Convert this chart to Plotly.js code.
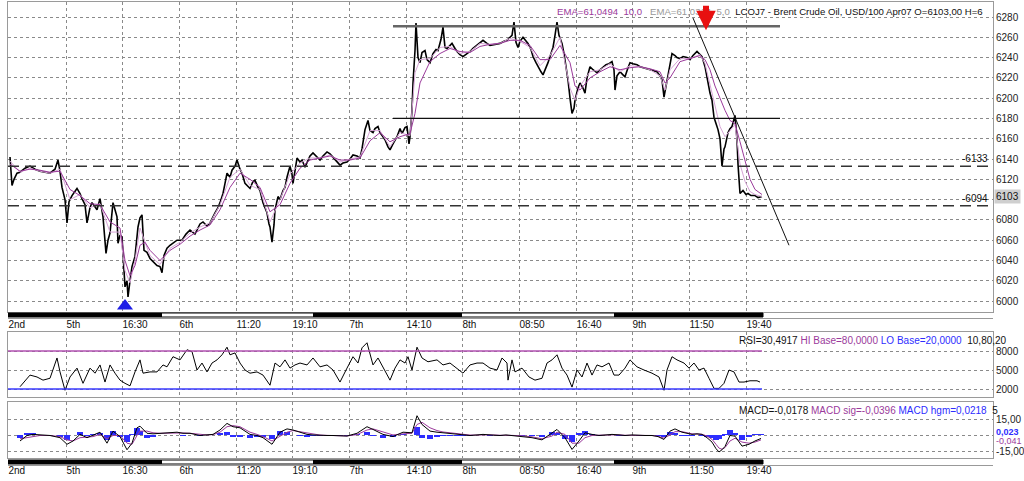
<!DOCTYPE html>
<html><head><meta charset="utf-8">
<script src="https://cdn.plot.ly/plotly-3.0.1.min.js"></script>
<style>html,body{margin:0;padding:0;background:#fff}#chart{width:1024px;height:481px}</style>
</head><body><div id="chart"></div>
<script>
// ---------- time axis (bar index) ----------
const xTickVals = [8,66,122,179,236,292,349,406,462,519,576,632,689,746];
const xTickText = ['2nd','5th','16:30','6th','11:20','19:10','7th','14:10','8th','08:50','16:40','9th','11:50','19:40'];
const sessionBlack = [[8,162],[313,462],[614,763]];
const sessionEnd = 763;

// ---------- price (LCOJ7, USD/100) ----------
const priceIdx = [
10,12,14,17,20,25,30,35,40,45,
50,55,58,60,62,65,67,69,72,77,
80,82,85,87,90,92,95,97,100,103,
106,108,110,113,115,117,118,120,122,124,
125,127,128,130,132,135,137,138,140,142,
144,147,150,154,157,160,162,164,167,170,
173,177,182,186,190,195,200,203,207,210,
215,218,220,223,225,227,230,232,235,237,
240,242,245,248,250,253,255,258,260,263,
265,267,269,270,272,274,275,278,280,283,
285,287,290,292,293,295,297,300,302,305,
308,310,313,317,320,323,327,330,333,337,
340,343,347,350,353,357,360,362,365,368,
370,373,375,378,380,383,385,388,390,393,
397,400,402,405,407,409,410,412,413,415,
416,418,420,422,425,427,430,433,436,438,
441,443,445,447,450,452,455,457,460,463,
467,470,473,477,480,483,487,490,495,500,
504,507,510,512,514,516,518,520,523,526,
528,531,533,536,538,541,543,546,548,551,
553,555,557,559,562,564,565,567,568,570,
572,574,575,578,580,583,585,587,590,593,
597,600,603,606,609,612,614,615,617,620,
623,625,628,630,633,637,640,643,647,650,
653,657,660,662,664,666,668,670,672,675,
677,680,683,687,690,693,697,700,702,705,
708,710,712,714,716,718,720,722,724,725,
728,730,732,735,737,738,740,743,746,748,
751,755,758,762];
const priceClose = [
6142,6114,6120,6126,6127,6131,6133,6130,6128,6127,
6126,6130,6139,6128,6112,6100,6077,6098,6104,6111,
6106,6101,6095,6077,6092,6097,6093,6090,6101,6083,
6047,6060,6067,6097,6090,6083,6057,6065,6063,6035,
6014,6020,6004,6020,6034,6044,6060,6073,6082,6085,
6050,6048,6042,6038,6035,6034,6028,6045,6052,6055,
6057,6060,6060,6066,6070,6066,6076,6078,6074,6077,
6087,6092,6097,6106,6116,6126,6122,6129,6133,6139,
6130,6126,6116,6113,6111,6118,6119,6112,6109,6097,
6092,6087,6076,6073,6058,6075,6090,6103,6100,6109,
6112,6122,6133,6125,6116,6130,6141,6137,6139,6132,
6138,6143,6146,6142,6139,6143,6147,6145,6142,6137,
6134,6136,6137,6140,6144,6143,6141,6150,6169,6178,
6168,6166,6170,6172,6166,6162,6159,6152,6149,6155,
6162,6170,6165,6171,6172,6155,6162,6188,6215,6247,
6274,6240,6235,6245,6247,6238,6235,6244,6248,6247,
6258,6270,6250,6249,6252,6254,6249,6246,6243,6241,
6244,6246,6249,6252,6255,6257,6254,6252,6253,6254,
6256,6257,6260,6262,6275,6255,6250,6256,6260,6257,
6254,6248,6241,6235,6231,6226,6223,6230,6235,6244,
6250,6262,6275,6262,6254,6244,6238,6225,6218,6200,
6185,6190,6198,6210,6215,6210,6205,6220,6231,6228,
6225,6228,6231,6233,6234,6236,6228,6208,6222,6226,
6223,6221,6230,6235,6234,6233,6231,6230,6229,6228,
6227,6226,6222,6218,6201,6212,6221,6232,6244,6242,
6240,6239,6241,6240,6238,6242,6246,6243,6241,6231,
6215,6205,6198,6181,6175,6169,6160,6133,6150,6152,
6166,6170,6172,6183,6159,6135,6106,6109,6105,6106,
6104,6104,6102,6103];

// ---------- moving averages ----------
const emaIdx = [
10,20,30,40,50,60,70,80,90,100,
110,120,125,130,135,140,145,150,160,170,
180,190,200,210,220,230,240,250,260,270,
280,290,300,310,320,330,340,350,360,370,
380,390,400,410,415,420,430,440,450,460,
470,480,490,500,510,520,530,540,550,560,
570,575,580,590,600,610,620,630,640,650,
660,665,670,680,690,700,705,710,715,720,
725,730,735,740,745,750,755,762];
const ema5 = [
6138,6127,6131,6128,6126,6130,6100,6105,6092,6096,
6068,6068,6030,6018,6040,6072,6058,6045,6036,6052,
6058,6067,6073,6077,6095,6122,6130,6114,6110,6078,
6100,6125,6136,6141,6141,6144,6137,6140,6142,6168,
6168,6152,6166,6163,6225,6238,6239,6250,6251,6244,
6246,6254,6253,6254,6259,6256,6250,6232,6242,6260,
6210,6198,6212,6226,6228,6234,6226,6232,6231,6228,
6222,6208,6228,6239,6239,6243,6234,6214,6192,6172,
6162,6168,6174,6135,6118,6108,6105,6103];
const ema10 = [
6135,6128,6130,6129,6127,6128,6110,6104,6096,6095,
6078,6072,6040,6025,6035,6055,6058,6050,6040,6050,
6056,6064,6070,6075,6090,6112,6126,6120,6112,6088,
6095,6116,6131,6139,6141,6143,6139,6139,6141,6158,
6166,6157,6162,6165,6185,6215,6236,6244,6249,6246,
6245,6251,6253,6254,6257,6257,6252,6238,6238,6252,
6235,6212,6208,6220,6226,6231,6228,6230,6231,6229,
6226,6215,6220,6236,6239,6242,6238,6228,6212,6200,
6188,6178,6175,6157,6137,6120,6110,6105];

// ---------- drawn analysis ----------
const dashedLevels = [6133, 6094];
const channelIdx = [393, 780];
const channelTop = 6271, channelBottom = 6180;
const trendIdx = [693, 789], trendVal = [6279, 6055];
const lowSignalIdx = [125], lowSignalVal = [5995];
const sellArrowIdx = 706, sellArrowVal = 6267;
const lastPrice = 6103;

// ---------- RSI ----------
const rsiIdx = [20,30,37,43,50,57,60,65,70,77,83,90,95,100,105,110,115,120,125,130,
135,140,143,150,157,163,167,173,180,187,192,197,202,207,212,217,222,227,230,235,
240,245,250,257,263,270,275,280,285,290,295,300,307,313,320,327,333,340,347,353,
358,362,367,370,373,378,383,390,395,400,405,408,412,417,422,428,437,443,450,457,
463,470,477,483,490,497,502,507,508,512,515,522,529,535,542,547,552,557,562,567,
572,577,582,587,592,597,602,609,614,619,625,630,637,644,652,659,664,667,672,677,
684,689,694,699,704,709,714,719,724,729,734,739,744,750,757,760];
const rsiVal = [23.6,42,39,34,37,69,47,18,39,53,29,53,45,58,31,58,45,34,29,25,
47,66,45,47,47,58,55,71,66,82,79,50,61,47,61,66,74,86,74,77,
61,50,45,47,42,26,61,55,66,53,58,61,58,69,55,58,50,31,53,71,
61,85,93,77,58,69,55,34,53,66,61,71,50,86,69,63,66,58,61,53,
45,58,61,61,53,50,69,61,34,66,47,53,39,34,37,61,66,74,53,42,
23,50,39,61,42,58,55,61,42,42,53,66,55,50,45,39,18,50,71,66,
61,53,61,50,53,37,21,21,29,50,47,31,31,33,33,31];
const rsiHi = 80, rsiLo = 20;

// ---------- MACD ----------
const macdIdx = [20,27,33,40,50,60,67,73,80,87,93,100,107,113,120,127,132,137,140,147,
153,160,170,177,183,190,200,207,213,220,227,233,240,250,257,263,272,280,287,293,
300,307,313,320,327,333,340,347,357,367,373,383,393,403,412,417,422,430,437,443,
450,457,463,470,477,483,490,500,506,512,522,532,542,552,557,565,572,579,585,592,
599,606,612,619,625,632,639,645,652,658,664,670,675,682,687,692,697,702,707,712,
716,719,722,725,730,735,742,749,755,761];
const macdLine = [-5,0,1,0.5,0,-2,-8,-5,1,-2,0,3,-7,4,-1,-13,-7,7,8.5,2,
1.5,2,2.5,3,2,2,0,0.5,1,5,11,8,7,1,0,-2,-8,3,6,5,
3,1,0.5,0,0,0,-0.5,-0.5,2,8,5.5,1,-1,3,2.5,18,10,4,3,2.5,
2,1,0.5,0,0.5,1,0.5,0,0.5,0,-0.6,-2,-4,2.5,5.5,-2,-12.7,-5,2.5,1,
0,0.5,1,0.5,0,0.5,0,0,0,-1,-3.6,4,6,3,2,1,1.5,1,-2,-6,
-12,-15,-13,-10,0,-0.6,-9.7,-8,-5,-2.7];
const macdSignal = [-3,-2,-1,0,0,-1,-4,-5,-2,-1.5,-1,1,-3,0,0,-7,-8,0,4,4,
2.5,2,2.2,2.6,2.3,2,0.8,0.5,0.8,3,8,9,8,3,1,-1,-5,-1,3,4.5,
3.5,2,1,0.4,0.1,0,-0.3,-0.4,0.8,5,6,3,0.5,1.5,2,10,12,7,4.5,3.2,
2.5,1.6,0.9,0.4,0.4,0.8,0.6,0.2,0.3,0.1,-0.3,-1.2,-3,-0.5,3,1,-7,-7,-2,0,
0.3,0.4,0.7,0.6,0.2,0.3,0.1,0,0,-0.6,-2.4,0.5,3.5,3.5,2.5,1.5,1.3,1.1,-0.5,-3.5,
-8,-11.5,-12.5,-11,-5,-2.5,-6,-7,-6,-4];
const macdHist = [-2,2,2,0.5,0,-1,-4,0,3,-0.5,1,2,-4,4,-1,-6,1,7,4.5,-2,
-1,0,0.3,0.4,-0.3,0,-0.8,0,0.2,2,3,-1,-1,-2,-1,-1,-3,4,3,0.5,
-0.5,-1,-0.5,-0.4,-0.1,0,-0.2,-0.1,1.2,3,-0.5,-2,-1.5,1.5,0.5,8,-2,-3,-1.5,-0.7,
-0.5,-0.6,-0.4,-0.4,0.1,0.2,-0.1,-0.2,0.2,-0.1,-0.3,-0.8,-1,3,2.5,-3,-5.7,2,4.5,1,
-0.3,0.1,0.3,-0.1,-0.2,0.2,-0.1,0,0,-0.4,-1.2,3.5,2.5,-0.5,-0.5,-0.5,0.2,-0.1,-1.5,-2.5,
-4,-3.5,-0.5,1,5,1.9,-3.7,-1,1,1.3];

// ---------- layout helpers (pixel rows of the 481px figure) ----------
const TOP = 2, BOTTOM = 458;
const p = px => (BOTTOM - px) / (BOTTOM - TOP);
const PURPLE = '#9b3a9b', BLUE = '#2d2dff', GRID = '#8a8a8a', FRAME = '#9a9a9a';
const FONT = 'Liberation Sans, Arial, sans-serif';
const xRange = [8, 993];

const priceTicks = [];
for (let v = 6000; v <= 6280; v += 20) priceTicks.push(v);
const priceTickText = priceTicks.map(v => v === 6100 ? '' : String(v));

const traces = [
  {x: priceIdx, y: priceClose, type: 'scatter', mode: 'lines', line: {color: '#000', width: 1.6}, xaxis: 'x', yaxis: 'y', hoverinfo: 'skip'},
  {x: emaIdx, y: ema5, type: 'scatter', mode: 'lines', line: {color: '#d6a4d6', width: 1}, xaxis: 'x', yaxis: 'y'},
  {x: emaIdx, y: ema10, type: 'scatter', mode: 'lines', line: {color: PURPLE, width: 1}, xaxis: 'x', yaxis: 'y'},
  {x: lowSignalIdx, y: lowSignalVal, type: 'scatter', mode: 'markers', marker: {symbol: 'triangle-up', size: 14, color: '#1e1ee6'}, xaxis: 'x', yaxis: 'y', cliponaxis: false},
  {x: rsiIdx, y: rsiVal, type: 'scatter', mode: 'lines', line: {color: '#000', width: 1}, xaxis: 'x2', yaxis: 'y2'},
  {x: macdIdx, y: macdHist, type: 'bar', marker: {color: BLUE, line: {width: 0}}, width: 6, xaxis: 'x3', yaxis: 'y3'},
  {x: macdIdx, y: macdSignal, type: 'scatter', mode: 'lines', line: {color: PURPLE, width: 1}, xaxis: 'x3', yaxis: 'y3'},
  {x: macdIdx, y: macdLine, type: 'scatter', mode: 'lines', line: {color: '#000', width: 1}, xaxis: 'x3', yaxis: 'y3'}
];

const xBase = {
  range: xRange, tickvals: xTickVals, ticktext: xTickText, ticks: '', showgrid: true,
  gridcolor: GRID, griddash: 'dot', gridwidth: 1, zeroline: false, showline: true, mirror: true,
  linecolor: FRAME, linewidth: 1, tickfont: {family: FONT, size: 10, color: '#111'},
  ticklabelposition: 'outside right', ticklabelstandoff: 3, fixedrange: true
};
const yBase = {
  side: 'right', ticks: '', showgrid: true, gridcolor: GRID, griddash: 'dot', gridwidth: 1,
  zeroline: false, showline: true, mirror: true, linecolor: FRAME, linewidth: 1,
  tickfont: {family: FONT, size: 10, color: '#222'}, fixedrange: true
};

const shapes = [];
dashedLevels.forEach(v => shapes.push({type: 'line', xref: 'x domain', x0: 0, x1: 1, yref: 'y', y0: v, y1: v,
  line: {color: '#333', width: 1.5, dash: '11px,6px'}}));
shapes.push({type: 'line', xref: 'x', x0: channelIdx[0], x1: channelIdx[1], yref: 'y', y0: channelTop, y1: channelTop, line: {color: '#666', width: 2.5}});
shapes.push({type: 'line', xref: 'x', x0: channelIdx[0], x1: channelIdx[1], yref: 'y', y0: channelBottom, y1: channelBottom, line: {color: '#111', width: 1.2}});
shapes.push({type: 'line', xref: 'x', x0: trendIdx[0], x1: trendIdx[1], yref: 'y', y0: trendVal[0], y1: trendVal[1], line: {color: '#111', width: 1}});
shapes.push({type: 'line', xref: 'x2', x0: xRange[0], x1: rsiIdx[rsiIdx.length - 1] + 2, yref: 'y2', y0: rsiHi, y1: rsiHi, line: {color: '#b050b0', width: 1.5}});
shapes.push({type: 'line', xref: 'x2', x0: xRange[0], x1: rsiIdx[rsiIdx.length - 1] + 2, yref: 'y2', y0: rsiLo, y1: rsiLo, line: {color: '#3a3aff', width: 1.5}});
// session bars under main panel and bottom panel
[[p(313), p(317), p(318.5)], [p(460), p(464), p(465.5)]].forEach(([a, b, c]) => {
  shapes.push({type: 'line', xref: 'x', x0: xRange[0], x1: xRange[1], yref: 'paper', y0: c, y1: c, line: {color: '#999', width: 1.2}});
  shapes.push({type: 'rect', xref: 'x', x0: xRange[0], x1: sessionEnd, yref: 'paper', y0: b, y1: a, fillcolor: '#fff', line: {color: '#000', width: 1}});
  sessionBlack.forEach(s => shapes.push({type: 'rect', xref: 'x', x0: s[0], x1: s[1], yref: 'paper', y0: b, y1: a, fillcolor: '#000', line: {width: 0}}));
});

const annFont = {family: FONT, size: 10, color: '#111'};
const annotations = [
  {xref: 'x', x: 555, yref: 'paper', y: p(11), xanchor: 'left', yanchor: 'middle', showarrow: false,
   font: {family: FONT, size: 9.6, color: '#111'},
   text: `<span style="color:${PURPLE}">EMA=61,0494  10,0</span>   <span style="color:#999">EMA=61,0314  5,0</span>  LCOJ7 - Brent Crude Oil, USD/100 Apr07 O=6103,00 H=6`},
  {xref: 'x', x: sellArrowIdx, yref: 'y', y: sellArrowVal, ax: 0, ay: -26, showarrow: true, arrowhead: 2, arrowsize: 0.65,
   arrowwidth: 6, arrowcolor: '#e81010', text: ''},
  {xref: 'x', x: 990, yref: 'y', y: dashedLevels[0], xanchor: 'right', yanchor: 'bottom', showarrow: false, font: annFont, text: '-' + dashedLevels[0]},
  {xref: 'x', x: 990, yref: 'y', y: dashedLevels[1], xanchor: 'right', yanchor: 'bottom', showarrow: false, font: annFont, text: '-' + dashedLevels[1]},
  {xref: 'paper', x: 1, xshift: 1, yref: 'y', y: lastPrice, xanchor: 'left', yanchor: 'middle', showarrow: false,
   font: {family: FONT, size: 10, color: '#111'}, bgcolor: '#cfcfcf', borderpad: 1, text: String(lastPrice)},
  {xref: 'x', x: 737, yref: 'paper', y: p(340), xanchor: 'left', yanchor: 'middle', showarrow: false, font: annFont,
   text: `RSI=30,4917 <span style="color:${PURPLE}">HI Base=80,0000</span> <span style="color:${BLUE}">LO Base=20,0000</span>  10,80,20`},
  {xref: 'x', x: 737, yref: 'paper', y: p(410), xanchor: 'left', yanchor: 'middle', showarrow: false, font: annFont,
   text: `MACD=-0,0178 <span style="color:${PURPLE}">MACD sig=-0,0396</span> <span style="color:${BLUE}">MACD hgm=0,0218</span>  5`},
  {xref: 'paper', x: 1, xshift: 1, yref: 'y3', y: 3.2, xanchor: 'left', yanchor: 'middle', showarrow: false,
   font: {family: FONT, size: 9, color: BLUE}, text: '<b>0,023</b>'},
  {xref: 'paper', x: 1, xshift: 1, yref: 'y3', y: -4.8, xanchor: 'left', yanchor: 'middle', showarrow: false,
   font: {family: FONT, size: 9, color: PURPLE}, text: '-0,041'}
];

const layout = {
  width: 1024, height: 481, margin: {l: 8, r: 31, t: TOP, b: 481 - BOTTOM},
  paper_bgcolor: '#fff', plot_bgcolor: '#fff', showlegend: false, bargap: 0,
  font: {family: FONT, size: 10, color: '#111'},
  xaxis: Object.assign({}, xBase, {anchor: 'y'}),
  xaxis2: Object.assign({}, xBase, {anchor: 'y2', showticklabels: false}),
  xaxis3: Object.assign({}, xBase, {anchor: 'y3'}),
  yaxis: Object.assign({}, yBase, {anchor: 'x', domain: [p(312), 1], range: [5989.2, 6294.8], tickvals: priceTicks, ticktext: priceTickText}),
  yaxis2: Object.assign({}, yBase, {anchor: 'x2', domain: [p(397), p(332)], range: [7.4, 110], tickvals: [20, 50, 80], ticktext: ['2000', '5000', '8000']}),
  yaxis3: Object.assign({}, yBase, {anchor: 'x3', domain: [0, p(402)], range: [-20.5, 30.5], tickvals: [-15, 0, 15], ticktext: ['-15,00', '', '15,00']}),
  shapes: shapes, annotations: annotations
};

Plotly.newPlot('chart', traces, layout, {displayModeBar: false, staticPlot: true});
</script>
</body></html>
